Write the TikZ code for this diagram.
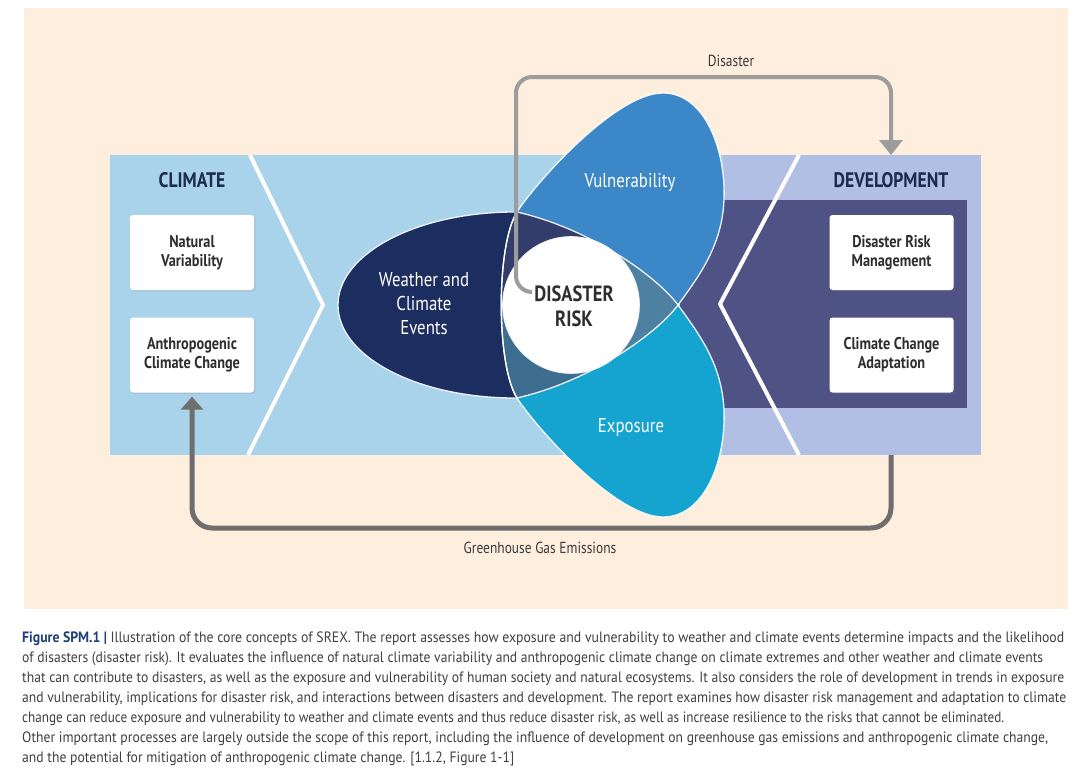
\documentclass[tikz,border=0pt]{standalone}
\usepackage{fontspec}
\usepackage{graphicx}
\setmainfont{PT Sans}
\newfontfamily\cond[FakeStretch=0.84]{PT Sans}
\usetikzlibrary{arrows.meta,shadows}

\definecolor{beige}{HTML}{FDEEDD}
\definecolor{climblue}{HTML}{A9D3EA}
\definecolor{devlight}{HTML}{B2BFE4}
\definecolor{devdark}{HTML}{4E5284}
\definecolor{wnavy}{HTML}{1C2D5F}
\definecolor{vblue}{HTML}{3C87C8}
\definecolor{ecyan}{HTML}{15A3CF}
\definecolor{lensC}{HTML}{4E80A2}
\definecolor{regA}{HTML}{323D6B}
\definecolor{regB}{HTML}{3D6E90}
\definecolor{titlecol}{HTML}{1B2A4E}
\definecolor{boxtext}{HTML}{2E2E2E}
\definecolor{disgrey}{HTML}{9C9C9C}
\definecolor{ghggrey}{HTML}{6E6E6E}
\definecolor{labgrey}{HTML}{3A3A3A}
\definecolor{capblue}{HTML}{1D3F7A}
\definecolor{capgrey}{HTML}{404040}

\newsavebox\fitbox
\newcommand\fitline[2]{\sbox\fitbox{#2}\pgfmathsetmacro\fitfac{#1/\the\wd\fitbox}\scalebox{\fitfac}[1]{\usebox\fitbox}}

\def\Vpath{(517,398) .. controls (496,365) and (496,245) .. (517,212) .. controls (535,184) and (615,93) .. (663,93) .. controls (705,93) and (726,150) .. (724,200) .. controls (722,245) and (700,275) .. (678,305) .. controls (660,330) and (595,380) .. (517,398) -- cycle}
\def\Epath{(517,212) .. controls (496,245) and (496,365) .. (517,398) .. controls (535,426) and (615,517) .. (663,517) .. controls (705,517) and (726,460) .. (724,410) .. controls (722,365) and (700,335) .. (678,305) .. controls (660,280) and (595,230) .. (517,212) -- cycle}
\def\Wfill{(515,212) .. controls (417,212) and (338,253.6) .. (338,305) .. controls (338,356.4) and (417,398) .. (515,398) -- (600,305) -- cycle}
\def\Warc{(515,212) .. controls (417,212) and (338,253.6) .. (338,305) .. controls (338,356.4) and (417,398) .. (515,398)}

\tikzset{
  chev/.style={draw=white, line width=4pt, line join=round},
  outl/.style={draw=white, line width=1.3pt, draw opacity=0.9},
  boxnode/.style={fill=white, rounded corners=3pt, minimum width=124pt, minimum height=75pt,
    align=center, text=boxtext, inner sep=0pt, font=\cond\bfseries\fontsize{17}{19}\selectfont,
    drop shadow={shadow xshift=1.5pt, shadow yshift=-1.5pt, opacity=0.18}},
  ptitle/.style={font=\cond\bfseries\fontsize{21}{24}\selectfont, text=titlecol, inner sep=0pt},
  elabel/.style={text=white, font=\cond\fontsize{20}{24}\selectfont, align=center, inner sep=0pt},
  disline/.style={draw=disgrey, line width=4pt},
  ghgline/.style={draw=ghggrey, line width=5pt},
  arlabel/.style={font=\cond\fontsize{16}{19}\selectfont, text=labgrey, inner sep=0pt},
  capline/.style={anchor=base west, inner sep=0pt, font=\fontsize{15}{20}\selectfont, text=capgrey},
}

\begin{document}
\begin{tikzpicture}[x=1pt,y=-1pt]
\useasboundingbox (0,0) rectangle (1085,779);
\fill[white] (0,0) rectangle (1085,779);
\fill[beige] (24,8) rectangle (1068,609);

% panels
\fill[climblue] (110,155) rectangle (723,455);
\fill[devlight] (723,155) rectangle (981,455);
\fill[devdark] (680,200) rectangle (967,408);
\draw[chev] (250,155) -- (323,305) -- (248,455);
\draw[chev] (799,155) -- (720,304) -- (799,455);

\coordinate (devtop) at (891,155);
\coordinate (devbot) at (891,455);

% Venn shapes
\fill[wnavy] \Wfill;
\fill[vblue] \Vpath;
\fill[ecyan] \Epath;
\begin{scope}
  \clip \Vpath;
  \fill[lensC] \Epath;
\end{scope}
\begin{scope}
  \clip \Vpath;
  \clip \Epath;
  \fill[regA] (571,305) -- (440,305) -- (440,150) -- (620,150) -- cycle;
\end{scope}
\begin{scope}
  \clip \Vpath;
  \clip \Epath;
  \fill[regB] (571,305) -- (440,305) -- (440,460) -- (615,460) -- cycle;
\end{scope}
\draw[outl] \Warc;
\draw[outl] \Vpath;
\draw[outl] \Epath;

\node[circle, fill=white, draw=white!88!gray, line width=0.6pt, minimum size=137pt, inner sep=0pt] (risk) at (571,305) {};

% labels in shapes
\node[elabel] (wlbl) at (424,304) {Weather and\\Climate\\Events};
\node[elabel] (vlbl) at (630,182) {Vulnerability};
\node[elabel] (elbl) at (631,427) {Exposure};

% panel titles and boxes
\node[ptitle] (climt) at (192,180) {CLIMATE};
\node[ptitle] (devt) at (891,180) {DEVELOPMENT};
\node[boxnode] (nv) at (192,252.5) {Natural\\Variability};
\node[boxnode] (acc) at (192,355) {Anthropogenic\\Climate Change};
\node[boxnode] (drm) at (891.5,252.5) {Disaster Risk\\Management};
\node[boxnode] (cca) at (891.5,355) {Climate Change\\Adaptation};

% Disaster connector
\coordinate (dstart) at (532,292);
\draw[disline, -{Triangle[width=23pt,length=15pt]}, rounded corners=16pt]
  (dstart) -| (516,77) -| (devtop);
\node[arlabel] (dislbl) at (731,61) {Disaster};

% Greenhouse connector
\draw[ghgline, -{Triangle[width=22pt,length=13pt]}, rounded corners=20pt]
  (devbot) |- (540,528) -| ([yshift=-4pt]acc.south);
\node[arlabel] (ghglbl) at (540,548) {Greenhouse Gas Emissions};

\node[font=\cond\bfseries\fontsize{22}{25}\selectfont, text=boxtext, align=center, inner sep=0pt] (risklbl) at (574,306) {DISASTER\\RISK};

% caption
\node[capline] (cap1) at (22,642) {\fitline{1042}{\textcolor{capblue}{\bfseries Figure SPM.1 |} Illustration of the core concepts of SREX. The report assesses how exposure and vulnerability to weather and climate events determine impacts and the likelihood}};
\node[capline] (cap2) at (22,662) {\fitline{1021}{of disasters (disaster risk). It evaluates the influence of natural climate variability and anthropogenic climate change on climate extremes and other weather and climate events}};
\node[capline] (cap3) at (22,682) {\fitline{1042}{that can contribute to disasters, as well as the exposure and vulnerability of human society and natural ecosystems. It also considers the role of development in trends in exposure}};
\node[capline] (cap4) at (22,702) {\fitline{1044}{and vulnerability, implications for disaster risk, and interactions between disasters and development. The report examines how disaster risk management and adaptation to climate}};
\node[capline] (cap5) at (22,722) {\fitline{982}{change can reduce exposure and vulnerability to weather and climate events and thus reduce disaster risk, as well as increase resilience to the risks that cannot be eliminated.}};
\node[capline] (cap6) at (22,742) {\fitline{1026}{Other important processes are largely outside the scope of this report, including the influence of development on greenhouse gas emissions and anthropogenic climate change,}};
\node[capline] (cap7) at (22,762) {\fitline{492}{and the potential for mitigation of anthropogenic climate change. [1.1.2, Figure 1-1]}};
\end{tikzpicture}
\end{document}
